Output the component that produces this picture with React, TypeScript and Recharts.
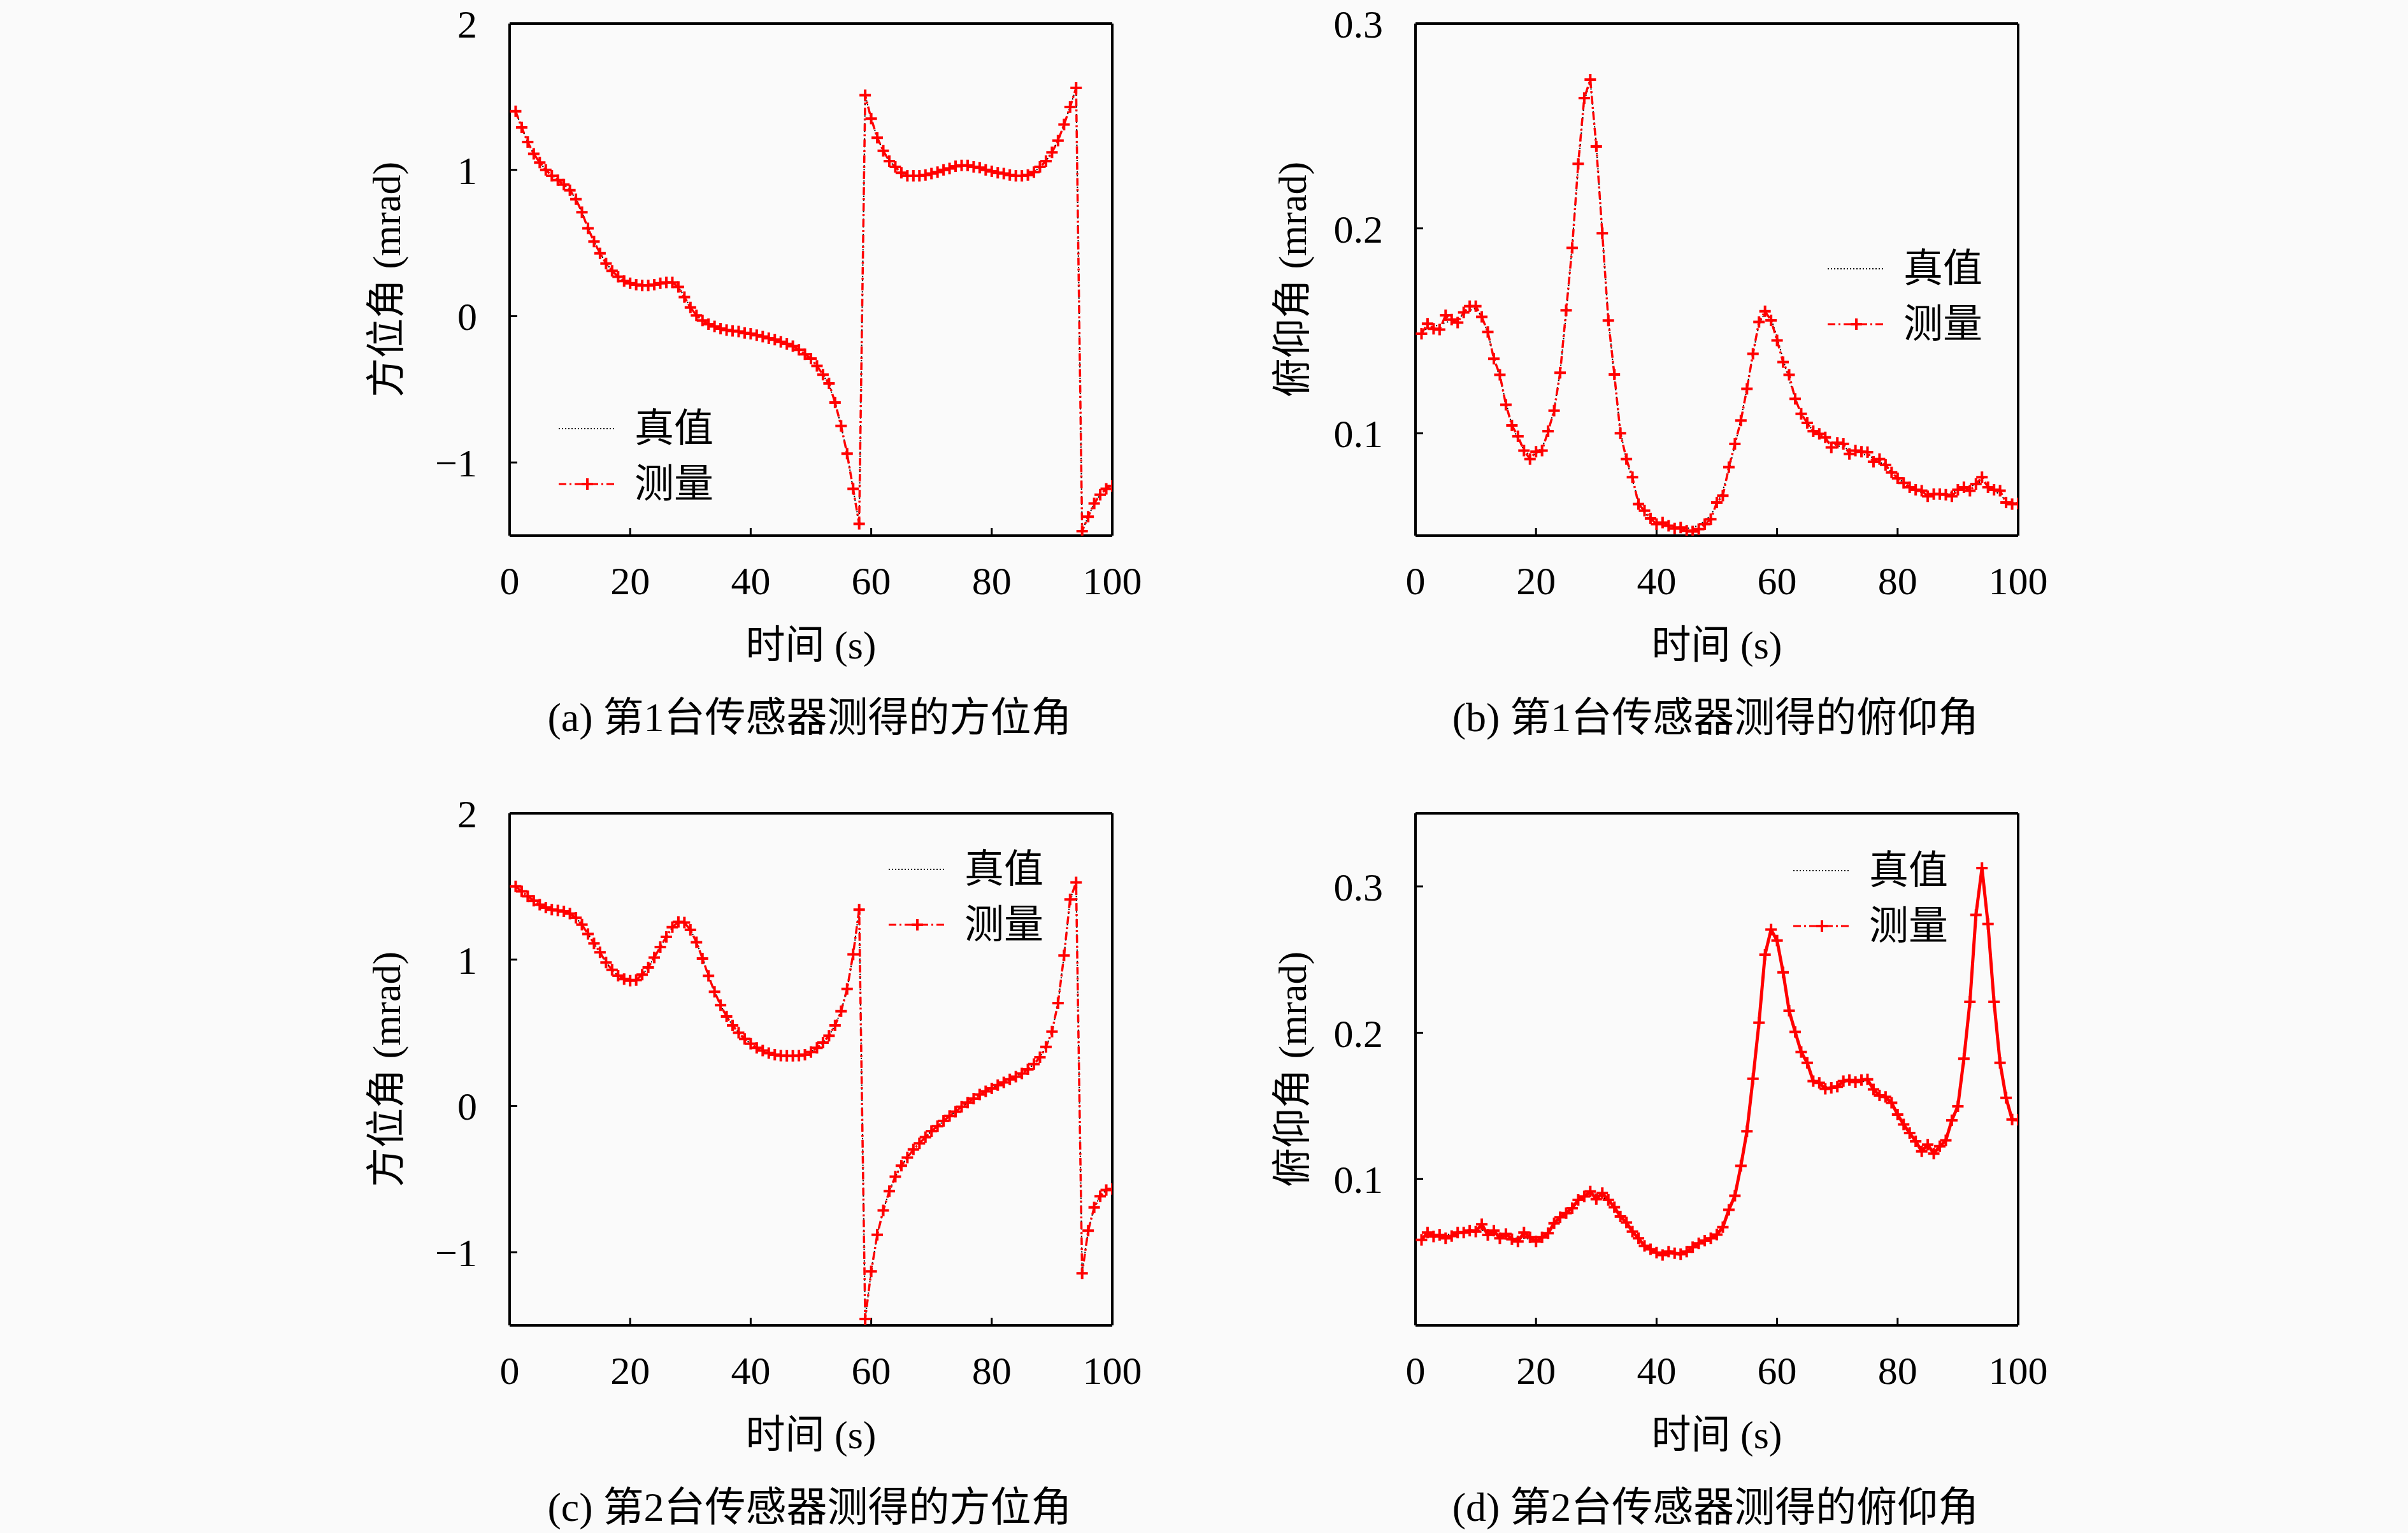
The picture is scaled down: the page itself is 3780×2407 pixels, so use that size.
import React from "react";
import { LineChart, Line, XAxis, YAxis, Legend } from "recharts";

// sample instants (s)
const seconds = Array.from({ length: 100 }, (_, i) => i + 1);
const xTicks = [0, 20, 40, 60, 80, 100];
const azTicks = [-1, 0, 1, 2];
const elTicks = [0.1, 0.2, 0.3];

// (a) sensor 1 azimuth
const azMeas1 = [
  1.40, 1.29, 1.19, 1.11, 1.05, 1.00, 0.96, 0.93, 0.90, 0.86,
  0.80, 0.71, 0.60, 0.51, 0.43, 0.36, 0.31, 0.27, 0.24, 0.225,
  0.215, 0.21, 0.21, 0.215, 0.225, 0.23, 0.23, 0.20, 0.13, 0.06,
  0.005, -0.03, -0.055, -0.07, -0.085, -0.095, -0.10, -0.105, -0.115, -0.12,
  -0.13, -0.14, -0.15, -0.16, -0.175, -0.19, -0.205, -0.23, -0.26, -0.29,
  -0.34, -0.40, -0.46, -0.59, -0.75, -0.94, -1.18, -1.42, 1.51, 1.35,
  1.22, 1.13, 1.06, 1.02, 0.98, 0.96, 0.96, 0.96, 0.965, 0.975,
  0.985, 1.00, 1.01, 1.025, 1.03, 1.03, 1.02, 1.015, 1.00, 0.99,
  0.98, 0.975, 0.965, 0.96, 0.96, 0.965, 0.985, 1.02, 1.06, 1.12,
  1.20, 1.31, 1.43, 1.56, -1.47, -1.37, -1.28, -1.22, -1.18, -1.16,
];
const azTrue1 = [
  1.40, 1.29, 1.19, 1.11, 1.05, 1.00, 0.965, 0.93, 0.90, 0.86,
  0.80, 0.71, 0.61, 0.51, 0.43, 0.365, 0.31, 0.27, 0.245, 0.225,
  0.215, 0.21, 0.21, 0.215, 0.22, 0.23, 0.23, 0.20, 0.135, 0.06,
  0.005, -0.03, -0.055, -0.07, -0.085, -0.095, -0.10, -0.108, -0.115, -0.12,
  -0.13, -0.14, -0.15, -0.16, -0.175, -0.19, -0.205, -0.23, -0.26, -0.295,
  -0.34, -0.40, -0.47, -0.59, -0.75, -0.94, -1.18, -1.42, 1.51, 1.35,
  1.22, 1.13, 1.06, 1.02, 0.98, 0.965, 0.96, 0.96, 0.965, 0.975,
  0.985, 1.00, 1.01, 1.02, 1.03, 1.03, 1.02, 1.015, 1.00, 0.99,
  0.98, 0.975, 0.965, 0.96, 0.96, 0.965, 0.985, 1.02, 1.06, 1.12,
  1.20, 1.31, 1.43, 1.56, -1.47, -1.37, -1.28, -1.22, -1.18, -1.16,
];

// (b) sensor 1 elevation
const elMeas1 = [
  0.1486, 0.1535, 0.151, 0.1506, 0.1576, 0.1555, 0.154, 0.159, 0.162, 0.162,
  0.1568, 0.1494, 0.1364, 0.1285, 0.1139, 0.1038, 0.0985, 0.0915, 0.0874, 0.091,
  0.0915, 0.101, 0.111, 0.1295, 0.160, 0.1905, 0.2315, 0.2636, 0.2726, 0.240,
  0.1976, 0.155, 0.1287, 0.100, 0.0874, 0.0785, 0.0654, 0.0622, 0.0584, 0.0556,
  0.0564, 0.0548, 0.0535, 0.054, 0.0524, 0.052, 0.0532, 0.0556, 0.058, 0.0662,
  0.0695, 0.0834, 0.0948, 0.1062, 0.1217, 0.1388, 0.1543, 0.1595, 0.1551, 0.1453,
  0.1347, 0.1285, 0.1168, 0.1095, 0.105, 0.101, 0.0997, 0.098, 0.0931, 0.0953,
  0.0948, 0.0899, 0.0915, 0.091, 0.0907, 0.0861, 0.0874, 0.0845, 0.0809, 0.078,
  0.0757, 0.0736, 0.0724, 0.0719, 0.0692, 0.0703, 0.0703, 0.07, 0.0692, 0.0724,
  0.0736, 0.0719, 0.0752, 0.0785, 0.0736, 0.0724, 0.0719, 0.0662, 0.0654, 0.0657,
];
const elTrue1 = [
  0.150, 0.151, 0.152, 0.153, 0.154, 0.155, 0.156, 0.158, 0.160, 0.161,
  0.157, 0.149, 0.137, 0.127, 0.115, 0.104, 0.097, 0.092, 0.089, 0.090,
  0.093, 0.100, 0.112, 0.130, 0.158, 0.192, 0.230, 0.262, 0.272, 0.241,
  0.198, 0.156, 0.127, 0.101, 0.087, 0.077, 0.067, 0.061, 0.058, 0.056,
  0.055, 0.0545, 0.054, 0.0535, 0.0535, 0.054, 0.055, 0.057, 0.060, 0.065,
  0.072, 0.082, 0.094, 0.107, 0.122, 0.139, 0.153, 0.159, 0.156, 0.147,
  0.136, 0.126, 0.117, 0.110, 0.105, 0.101, 0.099, 0.097, 0.095, 0.094,
  0.093, 0.092, 0.091, 0.090, 0.089, 0.088, 0.086, 0.084, 0.081, 0.078,
  0.076, 0.074, 0.072, 0.071, 0.070, 0.070, 0.070, 0.0702, 0.071, 0.072,
  0.073, 0.074, 0.075, 0.077, 0.074, 0.072, 0.070, 0.067, 0.066, 0.066,
];

// (c) sensor 2 azimuth
const azMeas2 = [
  1.50, 1.467, 1.433, 1.403, 1.375, 1.356, 1.342, 1.336, 1.33, 1.314,
  1.286, 1.239, 1.175, 1.111, 1.05, 0.98, 0.93, 0.89, 0.867, 0.856,
  0.861, 0.897, 0.947, 1.014, 1.086, 1.156, 1.222, 1.258, 1.253, 1.203,
  1.119, 1.008, 0.889, 0.78, 0.689, 0.611, 0.55, 0.50, 0.458, 0.425,
  0.397, 0.378, 0.361, 0.35, 0.344, 0.342, 0.342, 0.344, 0.35, 0.369,
  0.397, 0.433, 0.48, 0.55, 0.647, 0.80, 1.036, 1.342, -1.456, -1.131,
  -0.881, -0.714, -0.583, -0.483, -0.408, -0.353, -0.297, -0.256, -0.214, -0.172,
  -0.139, -0.103, -0.069, -0.039, -0.006, 0.022, 0.05, 0.078, 0.10, 0.119,
  0.142, 0.161, 0.181, 0.20, 0.222, 0.25, 0.286, 0.333, 0.403, 0.508,
  0.703, 1.028, 1.411, 1.528, -1.144, -0.853, -0.694, -0.617, -0.575, -0.567,
];
const azTrue2 = [
  1.50, 1.465, 1.433, 1.403, 1.377, 1.356, 1.342, 1.335, 1.33, 1.314,
  1.285, 1.24, 1.175, 1.11, 1.05, 0.982, 0.93, 0.89, 0.867, 0.857,
  0.862, 0.896, 0.947, 1.015, 1.086, 1.155, 1.22, 1.256, 1.252, 1.204,
  1.12, 1.008, 0.889, 0.78, 0.69, 0.611, 0.551, 0.50, 0.458, 0.425,
  0.398, 0.378, 0.361, 0.351, 0.344, 0.342, 0.342, 0.345, 0.351, 0.369,
  0.397, 0.432, 0.48, 0.551, 0.648, 0.80, 1.035, 1.342, -1.456, -1.13,
  -0.88, -0.714, -0.583, -0.484, -0.408, -0.352, -0.298, -0.256, -0.214, -0.173,
  -0.139, -0.104, -0.07, -0.039, -0.007, 0.022, 0.05, 0.077, 0.10, 0.12,
  0.142, 0.161, 0.18, 0.20, 0.222, 0.25, 0.286, 0.333, 0.403, 0.507,
  0.703, 1.027, 1.41, 1.527, -1.143, -0.853, -0.694, -0.617, -0.575, -0.567,
];

// (d) sensor 2 elevation
const elMeas2 = [
  0.0584, 0.0634, 0.0607, 0.0618, 0.0595, 0.0611, 0.0634, 0.0634, 0.0648, 0.0641,
  0.0691, 0.0618, 0.0648, 0.0595, 0.0625, 0.0589, 0.0573, 0.0634, 0.0602, 0.0573,
  0.0602, 0.063, 0.0698, 0.0739, 0.0767, 0.0801, 0.0858, 0.0881, 0.0915, 0.0863,
  0.0904, 0.0858, 0.0808, 0.0744, 0.0703, 0.0641, 0.0595, 0.0543, 0.052, 0.0497,
  0.0481, 0.0504, 0.0493, 0.0486, 0.0504, 0.0534, 0.0561, 0.0579, 0.0595, 0.062,
  0.0671, 0.079, 0.0886, 0.1091, 0.1327, 0.1686, 0.2069, 0.2534, 0.2705, 0.263,
  0.2413, 0.215, 0.2006, 0.1869, 0.1795, 0.167, 0.1658, 0.1617, 0.1624, 0.1631,
  0.167, 0.1677, 0.1663, 0.1677, 0.1681, 0.1613, 0.1571, 0.1562, 0.1521, 0.1441,
  0.1373, 0.1315, 0.1258, 0.119, 0.1235, 0.1174, 0.1224, 0.1265, 0.1402, 0.1498,
  0.1823, 0.2211, 0.2806, 0.3126, 0.2744, 0.2211, 0.1795, 0.1555, 0.1407, 0.1405,
];
const elTrue2 = [
  0.060, 0.061, 0.0615, 0.062, 0.062, 0.0625, 0.063, 0.0635, 0.064, 0.0645,
  0.065, 0.064, 0.063, 0.062, 0.061, 0.060, 0.0595, 0.0595, 0.059, 0.059,
  0.060, 0.063, 0.068, 0.073, 0.077, 0.081, 0.085, 0.088, 0.090, 0.0895,
  0.088, 0.085, 0.081, 0.075, 0.070, 0.064, 0.059, 0.055, 0.052, 0.050,
  0.049, 0.049, 0.049, 0.0495, 0.051, 0.053, 0.055, 0.058, 0.060, 0.063,
  0.068, 0.078, 0.089, 0.108, 0.132, 0.168, 0.207, 0.252, 0.270, 0.262,
  0.241, 0.216, 0.200, 0.187, 0.178, 0.168, 0.165, 0.163, 0.163, 0.164,
  0.166, 0.167, 0.167, 0.167, 0.166, 0.162, 0.158, 0.155, 0.151, 0.145,
  0.138, 0.131, 0.126, 0.121, 0.120, 0.119, 0.121, 0.127, 0.139, 0.150,
  0.182, 0.221, 0.280, 0.312, 0.274, 0.222, 0.180, 0.156, 0.141, 0.140,
];

const FONT = "'Liberation Serif', 'Noto Sans CJK SC', serif";
const RED = "#ff0000";
const PLOT_W = 946;
const PLOT_H = 804;
const AXIS_L = 250;
const AXIS_R = 60;
const AXIS_T = 37;
const AXIS_B = 160;
const legendOrder = ["truth", "measured"];

const fmt = (v: number) => (v < 0 ? "\u2212" + Math.abs(v) : String(v));

const PlusDot = (props: any) => {
  const { cx, cy, index } = props;
  if (cx == null || cy == null) return <g key={`p-${index}`} />;
  return (
    <path
      key={`p-${index}`}
      d={`M${cx - 9},${cy}H${cx + 9}M${cx},${cy - 9}V${cy + 9}`}
      stroke={RED}
      strokeWidth={4}
      fill="none"
    />
  );
};

const LegendBox = ({ payload }: any) => {
  const items = [...(payload || [])].sort(
    (a: any, b: any) =>
      legendOrder.indexOf(a.dataKey) - legendOrder.indexOf(b.dataKey)
  );
  return (
    <div style={{ display: "flex", flexDirection: "column" }}>
      {items.map((entry: any) => {
        const meas = entry.dataKey === "measured";
        return (
          <div
            key={entry.value}
            style={{ display: "flex", alignItems: "center", height: 87 }}
          >
            <svg width={90} height={24} style={{ display: "block" }}>
              <line
                x1={0}
                y1={12}
                x2={90}
                y2={12}
                stroke={meas ? RED : "#000"}
                strokeWidth={meas ? 3 : 2}
                strokeDasharray={meas ? "12 5 3 5" : "2 3"}
              />
              {meas && (
                <path d="M36,12H54M45,3V21" stroke={RED} strokeWidth={4} />
              )}
            </svg>
            <span
              style={{
                marginLeft: 29,
                fontSize: 62,
                fontFamily: FONT,
                color: "#000",
                lineHeight: 1,
              }}
            >
              {entry.value}
            </span>
          </div>
        );
      })}
    </div>
  );
};

const panels = [
  {
    id: "a",
    left: 800,
    top: 37,
    measured: azMeas1,
    truth: azTrue1,
    yDomain: [-1.5, 2],
    yTicks: azTicks,
    yLabel: "方位角 (mrad)",
    caption: "(a) 第1台传感器测得的方位角",
    legendX: 327,
    legendY: 629,
    solid: false,
  },
  {
    id: "b",
    left: 2222,
    top: 37,
    measured: elMeas1,
    truth: elTrue1,
    yDomain: [0.05, 0.3],
    yTicks: elTicks,
    yLabel: "俯仰角 (mrad)",
    caption: "(b) 第1台传感器测得的俯仰角",
    legendX: 897,
    legendY: 378,
    solid: false,
  },
  {
    id: "c",
    left: 800,
    top: 1277,
    measured: azMeas2,
    truth: azTrue2,
    yDomain: [-1.5, 2],
    yTicks: azTicks,
    yLabel: "方位角 (mrad)",
    caption: "(c) 第2台传感器测得的方位角",
    legendX: 845,
    legendY: 81,
    solid: false,
  },
  {
    id: "d",
    left: 2222,
    top: 1277,
    measured: elMeas2,
    truth: elTrue2,
    yDomain: [0, 0.35],
    yTicks: elTicks,
    yLabel: "俯仰角 (mrad)",
    caption: "(d) 第2台传感器测得的俯仰角",
    legendX: 843,
    legendY: 83,
    solid: true,
  },
];

const axisLine = { stroke: "#000", strokeWidth: 4 };
const tickLine = { stroke: "#000", strokeWidth: 3 };
const tickStyle = { fontSize: 62, fill: "#000", fontFamily: FONT };

const textStyle = (x: number, y: number, size: number, rotate = false) =>
  ({
    position: "absolute",
    left: x,
    top: y,
    transform: `translate(-50%, -50%)${rotate ? " rotate(-90deg)" : ""}`,
    fontSize: size,
    fontFamily: FONT,
    color: "#000",
    whiteSpace: "nowrap",
    lineHeight: 1,
  }) as React.CSSProperties;

const Panel = ({ spec }: { spec: any }) => {
  const data = seconds.map((t, i) => ({
    t,
    truth: spec.truth[i],
    measured: spec.measured[i],
  }));
  const cx = spec.left + PLOT_W / 2;
  const cy = spec.top + PLOT_H / 2;
  const below = spec.top + PLOT_H;
  return (
    <>
      <div
        style={{
          position: "absolute",
          left: spec.left - AXIS_L,
          top: spec.top - AXIS_T,
        }}
      >
        <LineChart
          width={AXIS_L + PLOT_W + AXIS_R}
          height={AXIS_T + PLOT_H + AXIS_B}
          data={data}
          margin={{ top: 0, right: 0, bottom: 0, left: 0 }}
        >
          <XAxis
            xAxisId="bottom"
            dataKey="t"
            type="number"
            domain={[0, 100]}
            ticks={xTicks}
            interval={0}
            orientation="bottom"
            height={AXIS_B}
            axisLine={axisLine}
            tickLine={tickLine}
            tickSize={-12}
            tickMargin={60}
            tick={tickStyle}
            allowDataOverflow
          />
          <XAxis
            xAxisId="top"
            dataKey="t"
            type="number"
            domain={[0, 100]}
            ticks={xTicks}
            interval={0}
            orientation="top"
            height={AXIS_T}
            axisLine={axisLine}
            tickLine={tickLine}
            tickSize={-12}
            tick={false}
            allowDataOverflow
          />
          <YAxis
            yAxisId="left"
            type="number"
            domain={spec.yDomain}
            ticks={spec.yTicks}
            interval={0}
            width={AXIS_L}
            axisLine={axisLine}
            tickLine={tickLine}
            tickSize={-12}
            tickMargin={63}
            tick={tickStyle}
            tickFormatter={fmt}
            allowDataOverflow
          />
          <YAxis
            yAxisId="right"
            orientation="right"
            type="number"
            domain={spec.yDomain}
            ticks={spec.yTicks}
            interval={0}
            width={AXIS_R}
            axisLine={axisLine}
            tickLine={tickLine}
            tickSize={-12}
            tick={false}
            allowDataOverflow
          />
          <Legend
            layout="vertical"
            align="center"
            verticalAlign="middle"
            wrapperStyle={{ left: spec.legendX, top: spec.legendY, width: 330 }}
            content={(p: any) => <LegendBox payload={p.payload} />}
          />
          <Line
            xAxisId="top"
            yAxisId="right"
            dataKey="truth"
            name="真值"
            stroke="#000"
            strokeWidth={2}
            strokeDasharray="2 4"
            dot={false}
            isAnimationActive={false}
          />
          <Line
            xAxisId="bottom"
            yAxisId="left"
            dataKey="measured"
            name="测量"
            stroke={RED}
            strokeWidth={spec.solid ? 5 : 3.5}
            strokeDasharray={spec.solid ? undefined : "12 5 3 5"}
            dot={PlusDot}
            isAnimationActive={false}
          />
        </LineChart>
      </div>
      <div style={textStyle(spec.left - 193, cy, 62, true)}>{spec.yLabel}</div>
      <div style={textStyle(cx, below + 172, 62)}>时间 (s)</div>
      <div style={textStyle(cx - 2, below + 286, 64)}>{spec.caption}</div>
    </>
  );
};

export default function App() {
  return (
    <div
      style={{
        position: "absolute",
        left: 0,
        top: 0,
        width: 3780,
        height: 2407,
        background: "#fafafa",
        overflow: "hidden",
      }}
    >
      {panels.map((p) => (
        <Panel key={p.id} spec={p} />
      ))}
    </div>
  );
}
